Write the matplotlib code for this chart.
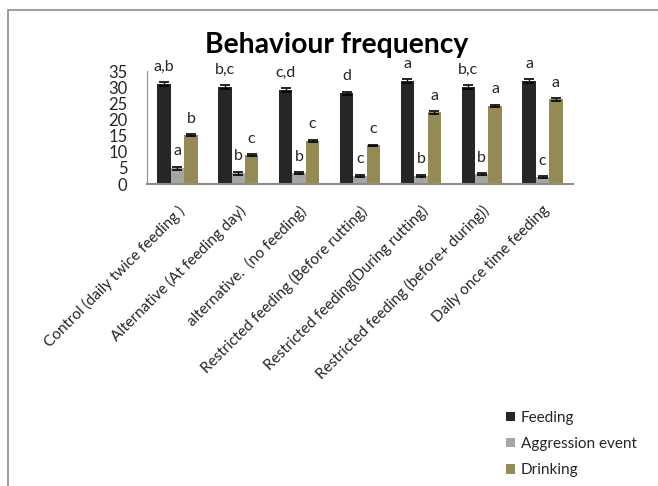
import matplotlib
matplotlib.use("Agg")
import matplotlib.pyplot as plt
import numpy as np
from matplotlib.patches import Rectangle

plt.rcParams['font.family'] = ['Lato', 'DejaVu Sans']

categories = ["Control (daily twice feeding )", "Alternative (At feeding day)",
              "alternative.  (no feeding)", "Restricted feeding (Before rutting)",
              "Restricted feeding(During rutting)", "Restricted feeding (before+ during))",
              "Daily once time feeding"]
feeding = [31.2, 30.1, 29.2, 28.2, 32.0, 30.1, 32.0]
feeding_err = [0.6, 0.6, 0.6, 0.5, 0.6, 0.6, 0.6]
aggression = [4.9, 3.3, 3.3, 2.6, 2.6, 3.0, 2.2]
aggression_err = [0.5, 0.5, 0.3, 0.3, 0.3, 0.3, 0.3]
drinking = [15.2, 9.0, 13.4, 12.0, 22.3, 24.3, 26.3]
drinking_err = [0.4, 0.3, 0.4, 0.2, 0.4, 0.4, 0.4]
feeding_letters = ["a,b", "b,c", "c,d", "d", "a", "b,c", "a"]
aggression_letters = ["a", "b", "b", "c", "b", "b", "c"]
drinking_letters = ["b", "c", "c", "c", "a", "a", "a"]
series_names = ["Feeding", "Aggression event", "Drinking"]
colors = ["#262626", "#a6a6a6", "#948a54"]
yticks = [0, 5, 10, 15, 20, 25, 30, 35]

fig = plt.figure(figsize=(6.58, 4.86), dpi=100)
fig.patches.append(Rectangle((8/658, -0.1), 1.2, 1 - 9.5/486 + 0.1, transform=fig.transFigure,
                             fill=False, edgecolor="#8c8c8c", linewidth=1.2))
ax = fig.add_axes([147/658, 1 - 184/486, 426/658, 112.5/486])

x = np.arange(len(categories))
w = 0.22
vals = [feeding, aggression, drinking]
errs = [feeding_err, aggression_err, drinking_err]
letters = [feeding_letters, aggression_letters, drinking_letters]
for i in range(3):
    pos = x + (i - 1) * w
    ax.bar(pos, vals[i], w, color=colors[i], label=series_names[i],
           yerr=errs[i], error_kw=dict(ecolor="black", capsize=3.5, elinewidth=1, capthick=1.2))
    for p, v, e, t in zip(pos, vals[i], errs[i], letters[i]):
        ax.annotate(t, (p, v + e), xytext=(0, 6), textcoords="offset points",
                    ha="center", va="bottom", fontsize=11.5, color="#262626")

ax.set_xlim(-0.5, len(categories) - 0.5)
ax.set_ylim(0, 35)
ax.set_yticks(yticks)
ax.tick_params(axis="y", length=0, pad=14, labelsize=12, labelcolor="#262626")
ax.set_xticks(x)
ax.set_xticklabels(categories, rotation=45, ha="right", va="top", rotation_mode="anchor",
                   fontsize=11, color="#262626")
ax.tick_params(axis="x", length=0, pad=14)
for s in ["top", "right"]:
    ax.spines[s].set_visible(False)
ax.spines["left"].set_color("#8c8c8c")
ax.spines["left"].set_linewidth(0.8)
ax.spines["bottom"].set_color("#8c8c8c")
ax.spines["bottom"].set_linewidth(1.5)

fig.text(336.5/658, 1 - 53/486, "Behaviour frequency", ha="center", va="baseline",
         fontsize=20.3, fontweight="bold", color="black")

leg = fig.legend(loc="upper left", bbox_to_anchor=(492/658, 1 - 397/486), frameon=False,
                 fontsize=11, handlelength=0.6, handleheight=0.6, handletextpad=0.4,
                 labelspacing=0.8)
for t in leg.get_texts():
    t.set_color("#262626")

fig.savefig("out.png", dpi=100)
